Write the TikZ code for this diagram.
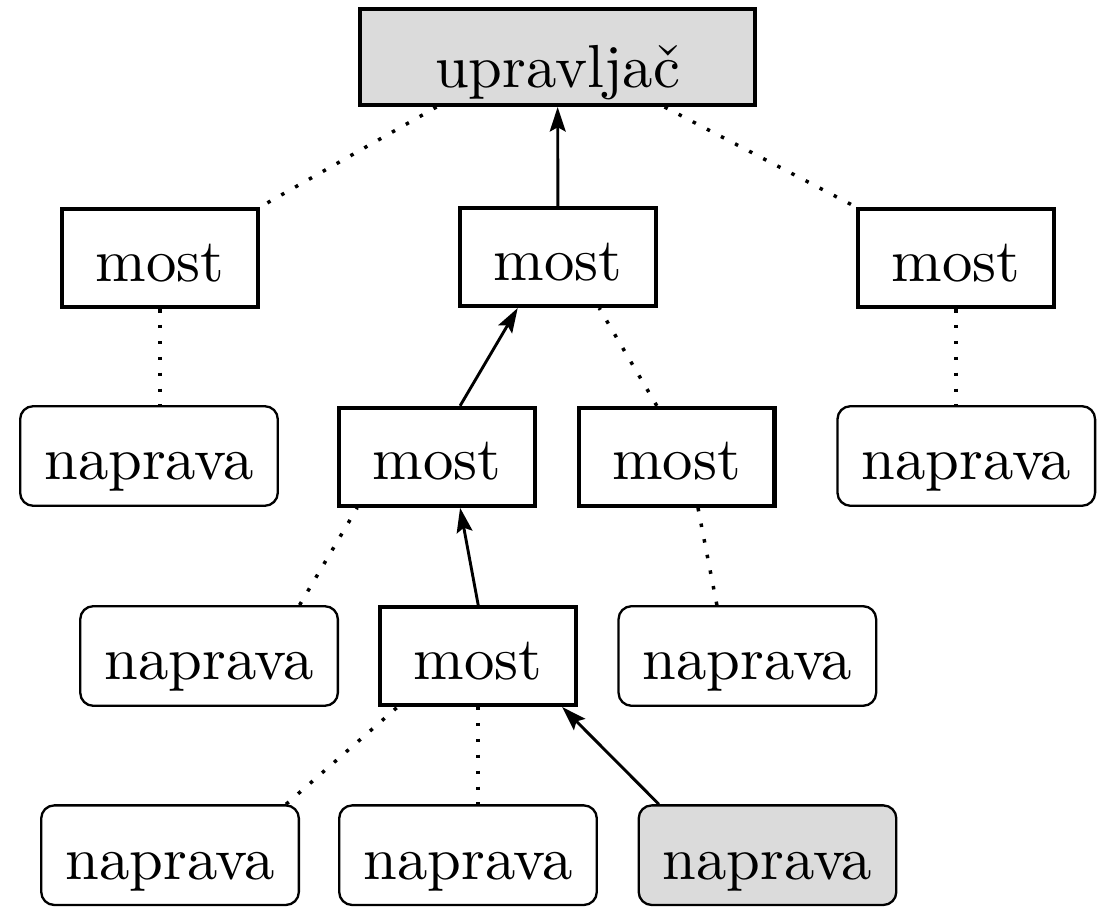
\documentclass[tikz,border=0pt]{standalone}
\usepackage{fontspec}
\setmainfont{lmroman10-regular.otf}
\usepackage{tikz}
\usetikzlibrary{arrows.meta}
\usepackage{xcolor}
\definecolor{boxgray}{gray}{0.86}

\begin{document}
\begin{tikzpicture}[
    font=\fontsize{21}{25}\selectfont,
    bridge/.style={draw, line width=1.4pt, minimum width=2.38cm, minimum height=1.19cm,
      text height=16pt, text depth=0pt},
    device/.style={draw, thick, rounded corners=4.5pt, minimum width=3.13cm, minimum height=1.21cm,
      text height=16.5pt, text depth=0pt},
    ctrl/.style={draw, line width=1.4pt, fill=boxgray, minimum width=4.8cm, minimum height=1.17cm,
      inner ysep=2pt, text height=21pt, text depth=0pt},
    link/.style={line width=1.2pt, dash pattern=on 1.2pt off 4.3pt},
    uplink/.style={line width=1pt, -{Stealth[length=8.5pt,width=5.5pt,inset=1.5pt]}}
  ]
  \useasboundingbox (0,0) rectangle (13.474,-11.02);

  % Kontroler na vrhu
  \node[ctrl] (up) at (6.774,-0.69) {upravljač};

  % Prvi red mostova
  \node[bridge] (mL) at (1.944,-3.135) {most};
  \node[bridge] (mM) at (6.78,-3.123) {most};
  \node[bridge] (mR) at (11.615,-3.135) {most};

  % Drugi red
  \node[device] (n2L) at (1.81,-5.54) {naprava};
  \node[bridge] (m2a) at (5.31,-5.55) {most};
  \node[bridge] (m2b) at (8.22,-5.55) {most};
  \node[device] (n2R) at (11.74,-5.54) {naprava};

  % Treci red
  \node[device] (n3L) at (2.54,-7.97) {naprava};
  \node[bridge] (m3) at (5.81,-7.97) {most};
  \node[device] (n3R) at (9.08,-7.97) {naprava};

  % Cetvrti red (izvor poruke je sivi)
  \node[device] (n4L) at (2.066,-10.39) {naprava};
  \node[device] (n4M) at (5.686,-10.39) {naprava};
  \node[device, fill=boxgray] (n4R) at (9.325,-10.39) {naprava};

  % Veze u stablu
  \draw[link] ([xshift=-1.47cm]up.south) -- (mL.north east);
  \draw[link] ([xshift=1.3cm]up.south) -- (mR.north west);
  \draw[link] (mL.south) -- (mL.south |- n2L.north);
  \draw[link] (mR.south) -- (mR.south |- n2R.north);
  \draw[link] ([xshift=-0.24cm]m2b.north) -- ([xshift=0.5cm]mM.south);
  \draw[link] ([xshift=1.1cm]n3L.north) -- ([xshift=-0.97cm]m2a.south);
  \draw[link] ([xshift=-0.37cm]n3R.north) -- ([xshift=0.26cm]m2b.south);
  \draw[link] ([xshift=1.41cm]n4L.north) -- ([xshift=-0.98cm]m3.south);
  \draw[link] (m3.south) -- (m3.south |- n4M.north);

  % Put poruke prema upravljacu
  \draw[uplink] ([xshift=-1.32cm]n4R.north) -- ([xshift=1.02cm]m3.south);
  \draw[uplink] (m3.north) -- ([xshift=0.28cm]m2a.south);
  \draw[uplink] ([xshift=0.28cm]m2a.north) -- ([xshift=-0.49cm]mM.south);
  \draw[uplink] (mM) -- (up);

\end{tikzpicture}
\end{document}
